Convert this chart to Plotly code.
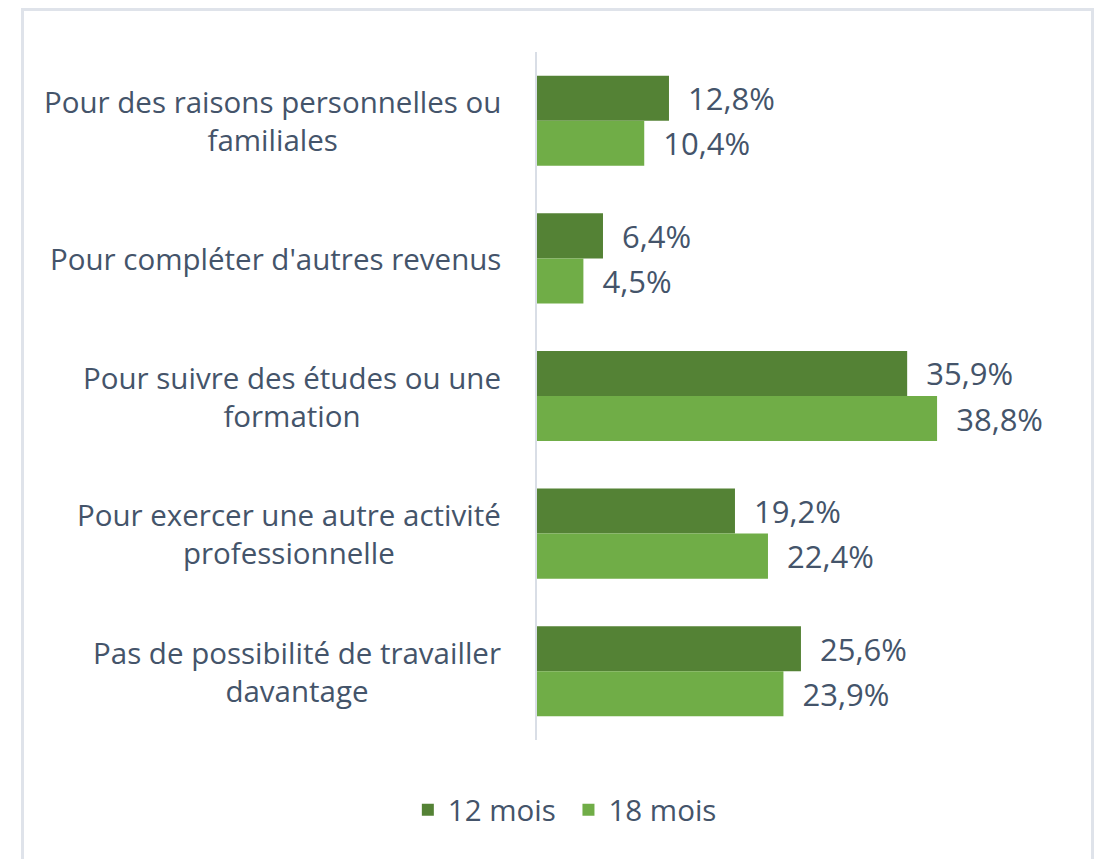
import plotly.graph_objects as go

categories = [
    "Pour des raisons personnelles ou<br>familiales",
    "Pour compléter d'autres revenus",
    "Pour suivre des études ou une<br>formation",
    "Pour exercer une autre activité<br>professionnelle",
    "Pas de possibilité de travailler<br>davantage",
]
series_names = ["12 mois\u00a0", "18 mois"]
values_12 = [12.8, 6.4, 35.9, 19.2, 25.6]
values_18 = [10.4, 4.5, 38.8, 22.4, 23.9]
colors = ["#548235", "#70AD47"]

W, H = 1102, 859
L, R, T, B = 537, 1001, 52, 740
FONT = "Open Sans"
TXT = "#44546A"
FS_CAT = 29.5
FS_LAB = 31
FS_LEG = 29.5

fig = go.Figure()
for name, vals, col in zip(series_names, [values_12, values_18], colors):
    fig.add_trace(go.Bar(
        y=categories, x=vals, name=name, orientation="h",
        marker=dict(color=col, line=dict(width=0)),
        texttemplate="\u00a0\u00a0%{x:.1f}%",
        textposition="outside", cliponaxis=False, constraintext="none",
        textfont=dict(family=FONT, size=FS_LAB, color=TXT),
    ))

annotations = []
for c in categories:
    annotations.append(dict(
        x=0, xref="paper", y=c, yref="y", xanchor="right", yanchor="middle",
        xshift=-34, text=c, showarrow=False, align="center",
        font=dict(family=FONT, size=FS_CAT, color=TXT),
    ))

pw, ph = R - L, B - T
def px2paper(xp, yp):
    return (xp - L) / pw, (B - yp) / ph

x0, y0 = px2paper(22.5, 9.5)
x1, y1 = px2paper(1092.5, 880)

fig.update_layout(
    width=W, height=H,
    margin=dict(l=L, r=W - R, t=T, b=H - B, pad=0),
    paper_bgcolor="white", plot_bgcolor="white",
    barmode="group", bargap=0.345, bargroupgap=0,
    separators=", ",
    font=dict(family=FONT, size=FS_CAT, color=TXT),
    xaxis=dict(range=[0, 45], visible=False, showgrid=False, zeroline=False),
    yaxis=dict(autorange="reversed", showticklabels=False, ticks="",
               showline=True, linecolor="#d9dee6", linewidth=2, showgrid=False),
    legend=dict(orientation="h", x=0.06, xanchor="center", y=-0.102, yanchor="middle",
                font=dict(family=FONT, size=FS_LEG, color=TXT), traceorder="normal",
                itemwidth=30),
    showlegend=True,
    annotations=annotations,
    shapes=[dict(type="rect", xref="paper", yref="paper", x0=x0, y0=y1, x1=x1, y1=y0,
                 line=dict(color="#dfe3ea", width=3), layer="below")],
)

fig.write_html("out.html", config={"displayModeBar": False},
               post_script="document.body.style.margin='0';")
